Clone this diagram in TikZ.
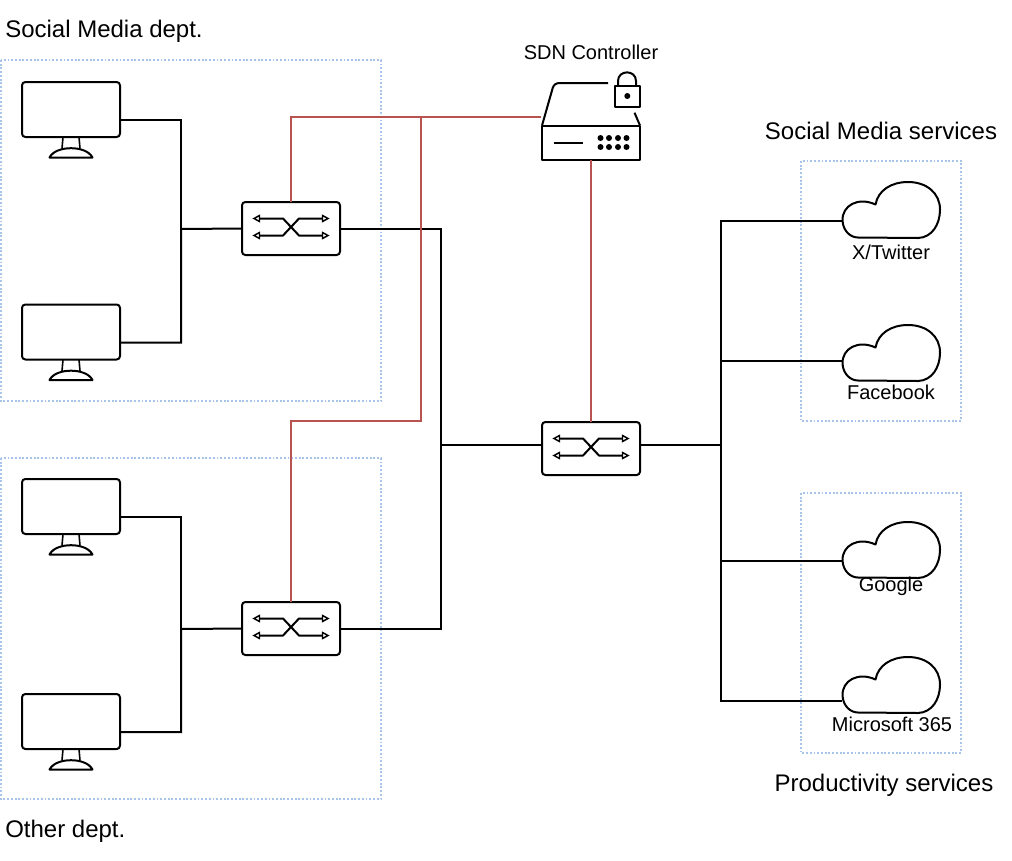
\documentclass[tikz,border=0pt]{standalone}
\usepackage{fontspec}
\setmainfont{Liberation Sans}
\definecolor{zonec}{HTML}{A9C4EB}
\definecolor{redc}{HTML}{B85450}
\tikzset{
  icon/.style={line width=1.5pt,line join=round,black},
  iconbox/.style={inner sep=0pt,outer sep=0pt,minimum width=#1,rectangle},
  wire/.style={line width=1.5pt,black},
  ctl/.style={line width=1.5pt,redc},
  zone/.style={draw=zonec,line width=1.1pt,dash pattern=on 1.4pt off 1.4pt},
  big/.style={font=\fontsize{18}{21}\selectfont,inner sep=0pt},
  small/.style={font=\fontsize{15}{18}\selectfont,inner sep=0pt},
  tiphead/.style={line width=1.1pt,line join=miter,fill=white,draw=black}
}
\newcommand{\monitoricon}[3]{%
  \node[iconbox=73.5pt,minimum height=57pt] (#1) at (#2+49,#3+38) {};
  \begin{scope}[shift={(#2,#3)},icon]
    \draw[rounded corners=2.5pt] (0,0) rectangle (98,55);
    \draw[line width=1.2pt] (41,55) -- (40,66.5);
    \draw[line width=1.2pt] (58,66.5) -- (57,55);
    \draw (27.5,75.5) .. controls (31,69) and (40,66.2) .. (49,66.2) .. controls (58,66.2) and (67,69) .. (70.5,75.5) -- cycle;
  \end{scope}}
\newcommand{\switchicon}[3]{%
  \node[iconbox=73.5pt,minimum height=39.75pt] (#1) at (#2+49,#3+26.5) {};
  \begin{scope}[shift={(#2,#3)},icon]
    \draw[rounded corners=2.5pt] (0,0) rectangle (98,53);
    \draw (17,16.5) -- (41,16.5) -- (57,33.5) -- (81,33.5);
    \draw (17,33.5) -- (41,33.5) -- (57,16.5) -- (81,16.5);
    \foreach \ty in {16.5,33.5} {
      \draw[tiphead] (12,\ty) -- (17.5,\ty-3) -- (17.5,\ty+3) -- cycle;
      \draw[tiphead] (86,\ty) -- (80.5,\ty-3) -- (80.5,\ty+3) -- cycle;
    }
  \end{scope}}
\newcommand{\cloudicon}[3]{%
  \node[iconbox=73.5pt,minimum height=42pt] (#1) at (891,#2+28) {};
  \coordinate (#1w) at (842,#3);
  \begin{scope}[shift={(842,#2)},icon]
    \draw (16,56) -- (76,56.5) .. controls (90,56) and (98,43) .. (98,28) .. controls (98,12) and (85,0.5) .. (66,0.5) .. controls (49,0.5) and (36,9) .. (33.5,23) .. controls (16,15) and (0,24) .. (0.5,39) .. controls (1,49) and (8,56) .. (16,56) -- cycle;
  \end{scope}}
\begin{document}
\begin{tikzpicture}[x=0.75pt,y=-0.75pt]
\useasboundingbox (0,0) rectangle (1012,860);
\fill[white] (0,0) rectangle (1012,860);
% zones
\draw[zone] (1,60) rectangle (381,401);
\draw[zone] (1,458) rectangle (381,799);
\draw[zone] (801,161) rectangle (961,421);
\draw[zone] (801,493) rectangle (961,753);
% labels
\node[big,anchor=west] (l1) at (5,31) {Social Media dept.};
\node[big,anchor=west] (l2) at (5,831) {Other dept.};
\node[big] (l3) at (881,131) {Social Media services};
\node[big] (l4) at (884,785) {Productivity services};
\node[small] (l5) at (591,52) {SDN Controller};
\node[small] (l6) at (891,252) {X/Twitter};
\node[small] (l7) at (891,392) {Facebook};
\node[small] (l8) at (891,586) {Google};
\node[small] (l9) at (892,724) {Microsoft 365};
% icons
\monitoricon{m1}{22}{82}
\monitoricon{m2}{22}{304.5}
\monitoricon{m3}{22}{479}
\monitoricon{m4}{22}{694}
\switchicon{s1}{242}{202}
\switchicon{s2}{242}{602}
\switchicon{s3}{542}{422}
\cloudicon{c1}{181.5}{221}
\cloudicon{c2}{324.5}{361}
\cloudicon{c3}{521.5}{561}
\cloudicon{c4}{656.5}{701}
% controller
\node[iconbox=73.5pt,minimum height=66pt] (ctrl) at (591,116) {};
\begin{scope}[icon]
  \draw (542,125.5) rectangle (640,160);
  \draw (542,125.5) -- (552.7,88) .. controls (554,84.5) and (556,83) .. (560,83) -- (608,83);
  \draw (634.5,112.7) -- (640,125.5);
  \draw (614.5,85.7) rectangle (640,106.7);
  \draw (618,85.7) -- (618,81) .. controls (618,69.5) and (636,69.5) .. (636,81) -- (636,85.7);
  \fill (627.3,96) circle[radius=3];
  \draw (554,142.7) -- (583,142.7);
  \foreach \dx in {600.5,609,618,626.5}
    \foreach \dy in {138,147}
      \fill (\dx,\dy) circle[radius=3];
\end{scope}
% junctions
\coordinate (jr) at (181,229);
\coordinate (jl) at (181,629);
\coordinate (bus) at (441,445);
\coordinate (rail) at (721,445);
\coordinate (s3w) at (542,445);
\coordinate (s3e) at (640,445);
\coordinate (redtop) at (421,117);
\coordinate (ctrlw) at (541,117);
\coordinate (redmid) at (421,421);
% black wires
\draw[wire] (m1.east) -| (jr);
\draw[wire] (m2.east) -| (jr) -- (s1.west);
\draw[wire] (m3.east) -| (jl);
\draw[wire] (m4.east) -| (jl) -- (s2.west);
\draw[wire] (s1.east) -| (bus);
\draw[wire] (s2.east) -| (bus);
\draw[wire] (bus) -- (s3w);
\draw[wire] (s3e) -- (rail);
\draw[wire] (c1w) -| (rail);
\draw[wire] (c2w) -| (rail);
\draw[wire] (c3w) -| (rail);
\draw[wire] (c4w) -| (rail);
% control wires
\draw[ctl] (s1.north) |- (ctrlw);
\draw[ctl] (s2.north) |- (redmid) -- (redtop);
\draw[ctl] (ctrl.south) -- (s3.north);
\end{tikzpicture}
\end{document}
